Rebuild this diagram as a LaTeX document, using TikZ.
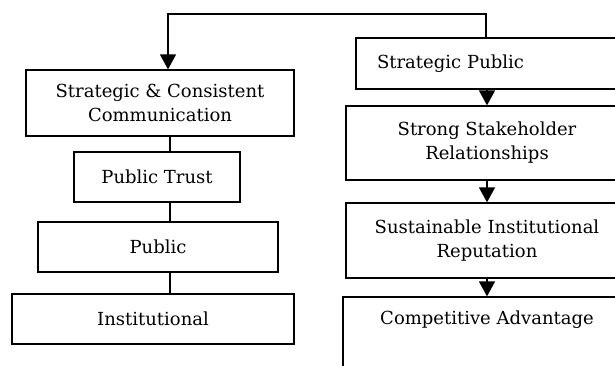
\documentclass[tikz,border=0pt]{standalone}
\usepackage{fontspec}
\setmainfont{DejaVu Serif}
\usetikzlibrary{arrows.meta}
\begin{document}
\begin{tikzpicture}[x=1pt,y=-1pt,
  box/.style={draw,line width=1.3pt,inner sep=0pt,align=center,
    font=\fontsize{18}{24}\selectfont},
  arr/.style={line width=1.6pt,-{Triangle[width=16pt,length=15pt]}},
  ln/.style={line width=1.6pt}]
\useasboundingbox (0,0) rectangle (615,365);
\clip (0,0) rectangle (615,365);
% left column
\node[box,minimum width=268pt,minimum height=66pt] (sc) at (160,103) {Strategic \& Consistent\\Communication};
\node[box,minimum width=166pt,minimum height=50pt] (pt) at (157,177) {Public Trust};
\node[box,minimum width=240pt,minimum height=50pt] (pu) at (158,247) {Public};
\node[box,minimum width=282pt,minimum height=50pt] (in) at (153,319) {Institutional};
% right column
\node[box,minimum width=272pt,minimum height=51pt,text width=230pt,align=left,inner xsep=21pt] (sp) at (492,63.5) {Strategic Public};
\node[box,minimum width=282pt,minimum height=74pt] (ss) at (487,143) {Strong Stakeholder\\Relationships};
\node[box,minimum width=282pt,minimum height=75pt] (sr) at (487,240.5) {Sustainable Institutional\\Reputation};
\node[box,minimum width=285pt,minimum height=93pt] (cabox) at (485.5,343.5) {};
\node[font=\fontsize{18}{24}\selectfont,inner sep=0pt] (ca) at (487,320) {Competitive Advantage};
% coordinates
\coordinate (tl) at (168,14);
\coordinate (tr) at (486,14);
\coordinate (lx) at (170,0);
\coordinate (rx) at (487,0);
% connectors
\draw[arr] (tr |- sp.north) -- (tr) -- (tl) -- (tl |- sc.north);
\draw[ln] (lx |- sc.south) -- (lx |- pt.north);
\draw[ln] (lx |- pt.south) -- (lx |- pu.north);
\draw[ln] (lx |- pu.south) -- (lx |- in.north);
\draw[arr] (rx |- sp.south) -- (rx |- ss.north);
\draw[arr] (rx |- ss.south) -- (rx |- sr.north);
\draw[arr] (rx |- sr.south) -- (rx |- cabox.north);
\end{tikzpicture}
\end{document}
